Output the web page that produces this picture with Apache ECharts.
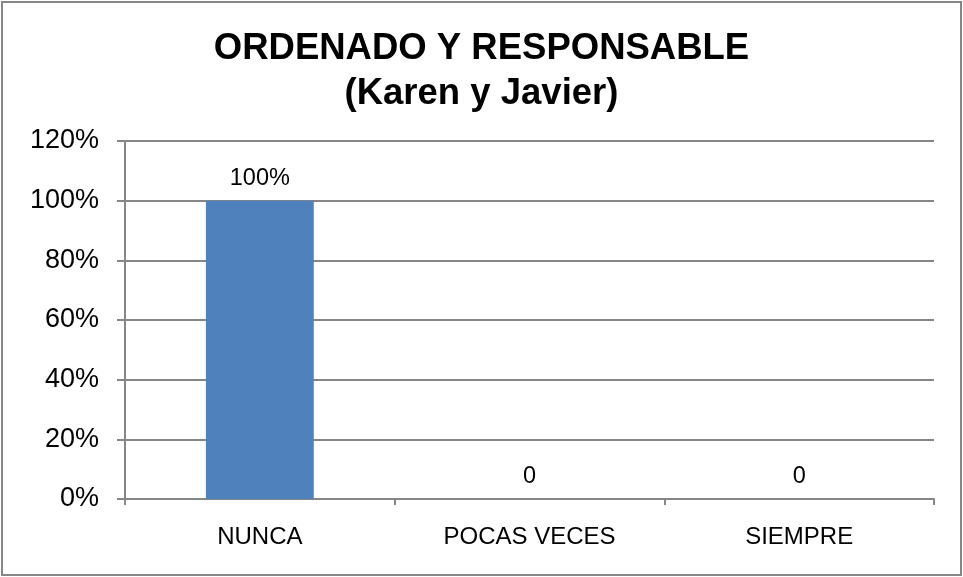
<!DOCTYPE html>
<html>
<head>
<meta charset="utf-8">
<script src="https://cdn.jsdelivr.net/npm/echarts@6/dist/echarts.min.js"></script>
<style>
  html, body { margin: 0; padding: 0; background: #fff; }
  #main { width: 963px; height: 577px; }
</style>
</head>
<body>
<div id="main"></div>
<script>
// datos
var categories = ['NUNCA', 'POCAS VECES', 'SIEMPRE'];
var values = [1, 0, 0];
var dataLabels = ['100%', '0', '0'];
var yTicks = [0, 0.2, 0.4, 0.6, 0.8, 1.0, 1.2];

var FONT = '"Liberation Sans", Arial, sans-serif';
var GRAY = '#868686';

var option = {
  animation: false,
  backgroundColor: '#fff',
  textStyle: { fontFamily: FONT },
  title: {
    text: 'ORDENADO Y RESPONSABLE\n(Karen y Javier)',
    left: 'center',
    top: 21,
    textStyle: {
      fontFamily: FONT,
      fontSize: 36.5,
      fontWeight: 'bold',
      color: '#000',
      lineHeight: 45
    }
  },
  graphic: [{
    type: 'rect',
    shape: { x: 2, y: 2, width: 959, height: 573 },
    style: { fill: 'none', stroke: GRAY, lineWidth: 2 },
    silent: true
  }],
  grid: {
    left: 125,
    right: 29,
    top: 141,
    bottom: 78
  },
  xAxis: {
    type: 'category',
    data: categories,
    axisLine: { lineStyle: { color: GRAY, width: 2 } },
    axisTick: { show: true, length: 6, lineStyle: { color: GRAY, width: 2 } },
    axisLabel: { color: '#000', fontSize: 24, margin: 26, fontFamily: FONT }
  },
  yAxis: {
    type: 'value',
    min: yTicks[0],
    max: yTicks[yTicks.length - 1],
    interval: 0.2,
    axisLine: { show: true, lineStyle: { color: GRAY, width: 2 } },
    axisTick: { show: true, length: 8, lineStyle: { color: GRAY, width: 2 } },
    splitLine: { lineStyle: { color: GRAY, width: 2 } },
    axisLabel: {
      color: '#000',
      fontSize: 27,
      margin: 26,
      fontFamily: FONT,
      formatter: function (v) { return Math.round(v * 100) + '%'; }
    }
  },
  series: [{
    type: 'bar',
    data: values,
    barWidth: '40%',
    itemStyle: { color: '#4F81BD' },
    label: {
      show: true,
      position: 'top',
      distance: 10,
      color: '#000',
      fontSize: 23.5,
      fontFamily: FONT,
      formatter: function (p) { return dataLabels[p.dataIndex]; }
    }
  }]
};

var myChart = echarts.init(document.getElementById('main'));
myChart.setOption(option);
</script>
</body>
</html>
